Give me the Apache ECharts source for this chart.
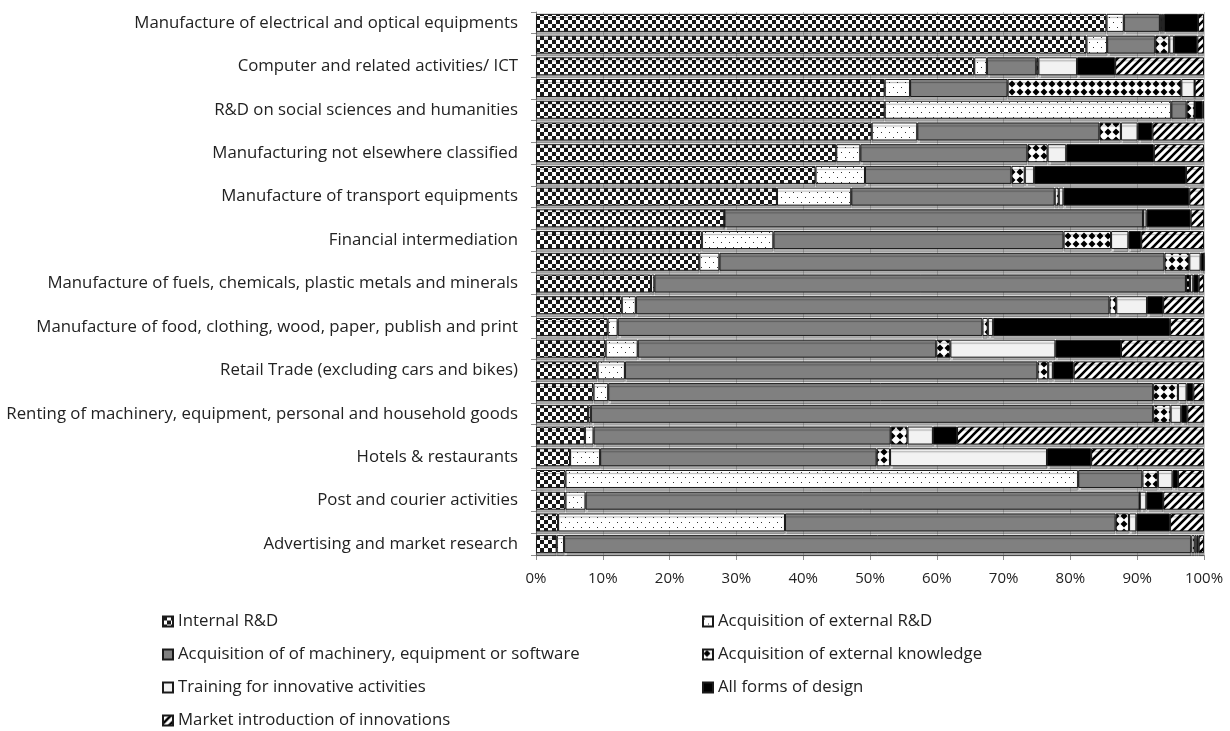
<!DOCTYPE html>
<html lang="en">
<head>
    <meta charset="UTF-8">
    <title>Innovation activities by sector</title>
    <script src="https://cdn.jsdelivr.net/npm/echarts@6/dist/echarts.min.js"></script>
    <style>
        html, body { margin: 0; padding: 0; background: #fff; }
    </style>
</head>
<body>
<div id="chart" style="width:1230px;height:731px;"></div>
<script type="text/javascript">
    // sectors, top to bottom (only every other one is labelled in the original)
    var categories = [
        'Manufacture of electrical and optical equipments', '',
        'Computer and related activities/ ICT', '',
        'R&D on social sciences and humanities', '',
        'Manufacturing not elsewhere classified', '',
        'Manufacture of transport equipments', '',
        'Financial intermediation', '',
        'Manufacture of fuels, chemicals, plastic metals and minerals', '',
        'Manufacture of food, clothing, wood, paper, publish and print', '',
        'Retail Trade (excluding cars and bikes)', '',
        'Renting of machinery, equipment, personal and household goods', '',
        'Hotels & restaurants', '',
        'Post and courier activities', '',
        'Advertising and market research'
    ];

    var seriesNames = [
        'Internal R&D',
        'Acquisition of external R&D',
        'Acquisition of of machinery, equipment or software',
        'Acquisition of external knowledge',
        'Training for innovative activities',
        'All forms of design',
        'Market introduction of innovations'
    ];

    // shares in %
    var internalRD = [85.4, 82.4, 65.6, 52.2, 52.2, 50.1, 44.9, 41.8, 36.0, 28.2, 24.8, 24.4, 17.2, 12.8, 10.7, 10.4, 9.2, 8.6, 7.8, 7.3, 5.1, 4.4, 4.4, 3.3, 3.1];
    var externalRD = [2.6, 3.1, 1.9, 3.8, 42.9, 6.8, 3.6, 7.4, 11.1, 0, 10.7, 3.0, 0.5, 2.1, 1.5, 4.8, 4.1, 2.2, 0.4, 1.3, 4.5, 76.6, 3.0, 33.9, 1.1];
    var machinery = [5.4, 7.2, 7.4, 14.6, 2.3, 27.2, 25.0, 21.9, 30.4, 62.7, 43.4, 66.5, 79.5, 70.7, 54.5, 44.6, 61.7, 81.5, 84.1, 44.4, 41.4, 9.6, 82.8, 49.4, 93.8];
    var knowledge = [0.3, 2.1, 0.3, 26.0, 1.2, 3.2, 3.0, 2.0, 0.6, 0, 7.1, 3.7, 0.6, 1.0, 0.8, 2.1, 1.6, 3.7, 2.6, 2.5, 2.0, 2.3, 0, 2.0, 0.5];
    var training = [0.3, 0.7, 5.8, 2.0, 0, 2.5, 2.8, 1.4, 0.7, 0.5, 2.6, 1.7, 0.5, 4.6, 0.8, 15.7, 0.7, 1.3, 1.6, 3.8, 23.5, 2.2, 1.0, 1.1, 0.3];
    var design = [5.1, 3.5, 5.7, 0, 1.2, 2.2, 13.1, 22.7, 18.8, 6.6, 1.9, 0.5, 0.8, 2.4, 26.4, 9.8, 3.1, 1.0, 0.9, 3.6, 6.6, 0.8, 2.5, 5.0, 0.3];
    var marketIntro = [0.9, 1.0, 13.3, 1.4, 0.2, 7.7, 7.5, 2.7, 2.2, 2.0, 9.4, 0, 0.8, 6.1, 5.1, 12.4, 19.5, 1.6, 2.5, 36.9, 16.9, 3.9, 6.1, 5.1, 0.8];

    var xTicks = ['0%', '10%', '20%', '30%', '40%', '50%', '60%', '70%', '80%', '90%', '100%'];

    var allValues = [internalRD, externalRD, machinery, knowledge, training, design, marketIntro];

    // 100% stacked: scale each row to its total
    var totals = categories.map(function (c, i) {
        var s = 0;
        allValues.forEach(function (arr) { s += arr[i]; });
        return s;
    });

    // fill patterns, Excel style
    function makeTile(w, h, draw) {
        var c = document.createElement('canvas');
        c.width = w;
        c.height = h;
        var ctx = c.getContext('2d');
        draw(ctx);
        return {image: c, repeat: 'repeat'};
    }

    var checker = makeTile(8, 8, function (ctx) {
        ctx.fillStyle = '#fff';
        ctx.fillRect(0, 0, 8, 8);
        ctx.fillStyle = '#1a1a1a';
        ctx.fillRect(0, 0, 4, 4);
        ctx.fillRect(4, 4, 4, 4);
    });

    var dots = makeTile(8, 10, function (ctx) {
        ctx.fillStyle = '#fff';
        ctx.fillRect(0, 0, 8, 10);
        ctx.fillStyle = '#333';
        ctx.fillRect(1, 2, 1, 1);
        ctx.fillRect(5, 7, 1, 1);
    });

    var diamonds = makeTile(8, 8, function (ctx) {
        ctx.fillStyle = '#fff';
        ctx.fillRect(0, 0, 8, 8);
        ctx.fillStyle = '#000';
        ctx.beginPath();
        ctx.moveTo(4, 0.5);
        ctx.lineTo(7.5, 4);
        ctx.lineTo(4, 7.5);
        ctx.lineTo(0.5, 4);
        ctx.closePath();
        ctx.fill();
    });

    var stripes = makeTile(8, 8, function (ctx) {
        ctx.fillStyle = '#fff';
        ctx.fillRect(0, 0, 8, 8);
        ctx.strokeStyle = '#000';
        ctx.lineWidth = 2.6;
        ctx.beginPath();
        ctx.moveTo(-2, 10); ctx.lineTo(10, -2);
        ctx.moveTo(-6, 6); ctx.lineTo(6, -6);
        ctx.moveTo(2, 14); ctx.lineTo(14, 2);
        ctx.stroke();
    });

    var fills = [checker, dots, '#808080', diamonds, '#f2f2f2', '#000000', stripes];

    var myChart = echarts.init(document.getElementById('chart'));

    var series = allValues.map(function (arr, k) {
        return {
            name: seriesNames[k],
            type: 'bar',
            stack: 'total',
            barWidth: 18,
            itemStyle: {
                color: fills[k],
                borderColor: '#1a1a1a',
                borderWidth: 1,
                shadowColor: 'rgba(0,0,0,0.32)',
                shadowOffsetY: 3,
                shadowBlur: 1
            },
            emphasis: {disabled: true},
            data: arr.map(function (v, i) { return v / totals[i] * 100; })
        };
    });

    var legendText = {fontFamily: 'Open Sans', fontSize: 16.8, color: '#222'};

    option = {
        animation: false,
        textStyle: {fontFamily: 'Open Sans'},
        grid: {left: 536, right: 26, top: 12, bottom: 176},
        legend: [
            {
                orient: 'vertical',
                left: 162,
                top: 613,
                padding: 0,
                icon: 'rect',
                itemWidth: 10,
                itemHeight: 10,
                itemGap: 16,
                textStyle: legendText,
                data: [seriesNames[0], seriesNames[2], seriesNames[4], seriesNames[6]]
            },
            {
                orient: 'vertical',
                left: 702,
                top: 613,
                padding: 0,
                icon: 'rect',
                itemWidth: 10,
                itemHeight: 10,
                itemGap: 16,
                textStyle: legendText,
                data: [seriesNames[1], seriesNames[3], seriesNames[5]]
            }
        ],
        xAxis: {
            type: 'value',
            min: 0,
            max: 100,
            interval: 10,
            axisLine: {show: true, lineStyle: {color: '#8c8c8c'}},
            axisTick: {show: true, length: 5, lineStyle: {color: '#8c8c8c'}},
            axisLabel: {
                margin: 16,
                fontFamily: 'Open Sans',
                fontSize: 15,
                color: '#222',
                formatter: function (v) { return xTicks[Math.round(v / 10)]; }
            },
            splitLine: {show: true, lineStyle: {color: '#d0d0d0'}}
        },
        yAxis: {
            type: 'category',
            inverse: true,
            data: categories,
            axisLine: {show: true, lineStyle: {color: '#8c8c8c'}},
            axisTick: {show: true, length: 5, lineStyle: {color: '#8c8c8c'}},
            axisLabel: {
                interval: 0,
                margin: 18,
                fontFamily: 'Open Sans',
                fontSize: 16.8,
                color: '#222'
            }
        },
        series: series
    };

    myChart.setOption(option);
</script>
</body>
</html>
